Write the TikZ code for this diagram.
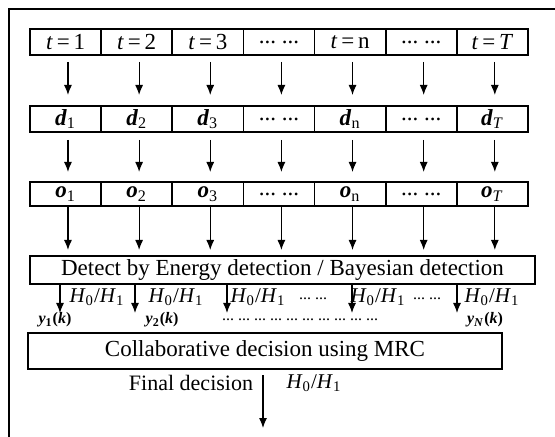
\documentclass[tikz,border=0pt]{standalone}
\usepackage{fontspec}
\setmainfont{Liberation Serif}
\usetikzlibrary{arrows.meta, positioning}

\newcommand{\tlab}[1]{\textit{t}\,=\,#1}
\newcommand{\dlab}[1]{\textbf{\textit{d}}\textsubscript{#1}}
\newcommand{\olab}[1]{\textbf{\textit{o}}\textsubscript{#1}}
\newcommand{\ylab}[1]{\textbf{\textit{y}\textsubscript{#1}(\textit{k})}}
\newcommand{\hyp}{\textit{H}\textsubscript{0}/\textit{H}\textsubscript{1}}
\newcommand{\gap}{...\ ...}

\begin{document}
\begin{tikzpicture}[>={Latex[length=5pt,width=4pt]}, x=0.5pt, y=-0.5pt, font=\fontsize{11.5}{13}\selectfont,
  cell/.style={draw, thick, minimum width=35.57pt, minimum height=13pt, inner sep=0pt, outer sep=0pt},
  bar/.style={draw, thick, inner sep=0pt, outer sep=0pt},
  flow/.style={->, semithick},
  htext/.style={inner sep=0pt, font=\fontsize{10.5}{12}\selectfont},
  small/.style={font=\fontsize{8}{9}\selectfont}]

\useasboundingbox (0,0) rectangle (555,437);
\draw[thick] (9,440) -- (9,9) -- (558,9); %frame

% time slots, samples, observations
\foreach \i/\lab in {1/{\tlab{1}}, 2/{\tlab{2}}, 3/{\tlab{3}}, 4/{\gap}, 5/{\tlab{n}}, 6/{\gap}, 7/{\tlab{\textit{T}}}}
  \node[cell] (t\i) at ({30+71.14*(\i-0.5)}, 42) {\lab};
\foreach \i/\lab in {1/{\dlab{1}}, 2/{\dlab{2}}, 3/{\dlab{3}}, 4/{\gap}, 5/{\dlab{n}}, 6/{\gap}, 7/{\dlab{\textit{T}}}}
  \node[cell] (d\i) at ({30+71.14*(\i-0.5)}, 119) {\lab};
\foreach \i/\lab in {1/{\olab{1}}, 2/{\olab{2}}, 3/{\olab{3}}, 4/{\gap}, 5/{\olab{n}}, 6/{\gap}, 7/{\olab{\textit{T}}}}
  \node[cell, minimum height=12pt] (o\i) at ({30+71.14*(\i-0.5)}, 194) {\lab};

\node[bar, minimum width=252.5pt, minimum height=14pt] (det) at (282.5, 270) {Detect by Energy detection / Bayesian detection};
\node[bar, minimum width=237pt, minimum height=18pt] (mrc) at (265, 351) {Collaborative decision using MRC};

\foreach \i in {1,...,7} {
  \draw[flow, shorten <=3.5pt, shorten >=5.5pt] ([xshift=1.2pt]t\i.south) -- ([xshift=1.2pt]d\i.north);
  \draw[flow, shorten <=4pt, shorten >=5pt] ([xshift=1.2pt]d\i.south) -- ([xshift=1.2pt]o\i.north);
  \draw[flow, shorten >=3pt] ([xshift=1.2pt]o\i.south) -- ([xshift=1.2pt]o\i.south |- det.north);
}

% local decisions
\foreach \k/\x in {1/60, 2/135, 3/227, 4/352, 5/457} {
  \coordinate (e\k) at (\x, 313);
  \draw[flow] (det.south -| e\k) -- (e\k);
}
\node[htext] (h1) at (97, 297) {\hyp};
\node[htext] (h2) at (176, 297) {\hyp};
\node[htext] (h3) at (258, 297) {\hyp};
\node[htext] (h4) at (378, 297) {\hyp};
\node[htext] (h5) at (492, 297) {\hyp};
\node[small] (g1) at (313, 299) {\gap};
\node[small] (g2) at (427, 299) {\gap};
\node[small] (y1) at (55, 320) {\ylab{1}};
\node[small] (y2) at (162, 320) {\ylab{2}};
\node[small] (yN) at (485, 320) {\ylab{\textit{N}}};
\node[small] (g3) at (300, 320) {\gap\ \gap\ \gap\ \gap\ \gap};

% final decision
\coordinate (out) at (263, 428);
\draw[flow, shorten <=3pt] (mrc.south -| out) -- (out);
\node[font=\fontsize{11}{12}\selectfont] (fin) at (191, 383) {Final decision};
\node[htext] (h6) at (314, 383) {\hyp};

\end{tikzpicture}
\end{document}
